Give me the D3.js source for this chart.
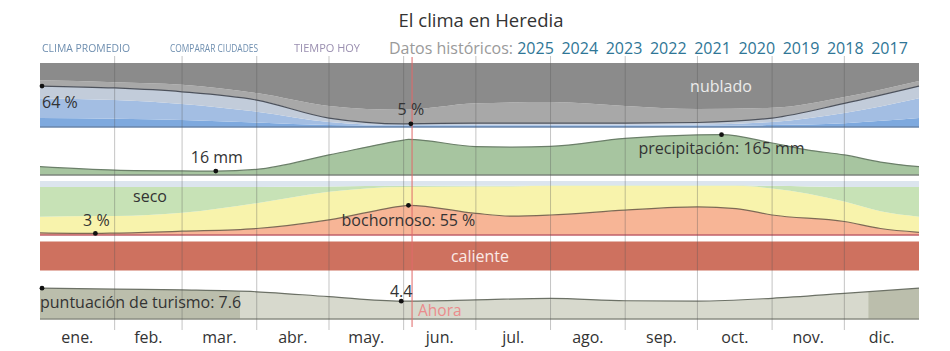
<!DOCTYPE html>
<html>
<head>
<meta charset="utf-8">
<script src="https://cdn.jsdelivr.net/npm/d3@7"></script>
<style>
  body { margin: 0; background: #fff; }
  svg { display: block; font-family: "Open Sans", "Noto Sans", sans-serif; }
</style>
</head>
<body>
<svg id="chart" width="950" height="351"></svg>
<script>
// ---------- data ----------
const monthLabels = ["ene.", "feb.", "mar.", "abr.", "may.", "jun.", "jul.", "ago.", "sep.", "oct.", "nov.", "dic."];
const monthStarts = [0, 31, 59, 90, 120, 151, 181, 212, 243, 273, 304, 334, 365];
const yearLinks = ["2025", "2024", "2023", "2022", "2021", "2020", "2019", "2018", "2017"];
const navLinks = ["CLIMA PROMEDIO", "COMPARAR CIUDADES", "TIEMPO HOY"];

// cloud cover, % of time in each category (day of year samples)
const cloudDays         = [0, 31, 59, 90, 120, 151, 181, 212, 243, 273, 304, 334, 365];
const cloudClear        = [14, 13, 11, 7, 3, 2, 2, 2, 2, 2, 3, 6, 14];
const cloudMostlyClear  = [31, 29, 25, 17, 5, 1, 1.5, 1.5, 1.5, 2, 5, 16, 31];
const cloudPartly       = [19, 19, 19, 18, 6, 2, 2.5, 2.5, 2.5, 3, 6, 15, 19];
const cloudMostlyCloudy = [9, 9, 11, 11, 19, 22, 31, 33, 27, 21, 16, 10, 8];
const cloudOvercast     = [27, 30, 34, 47, 67, 73, 63, 61, 67, 72, 70, 53, 28];

// 31-day rainfall, mm
const rainDays = [0, 31, 59, 73, 90, 120, 151, 153, 181, 196, 212, 243, 273, 283, 304, 319, 334, 349, 365];
const rainMm   = [34, 20, 16.5, 16, 23, 82, 143, 146, 116, 114, 117, 150, 164, 165, 131, 102, 82, 53, 34];

// humidity comfort, % of time in each level
const humDays        = [0, 23, 31, 59, 90, 120, 151, 153, 181, 196, 212, 243, 273, 289, 304, 334, 349, 365];
const humMuggy       = [4, 3, 3.5, 7, 12, 28, 54, 55, 40, 35, 37, 46, 52, 49, 37, 25, 12, 5];
const humHumid       = [30, 32, 31.5, 34, 47, 52, 35, 34, 50, 55, 54, 45, 39, 42, 49, 37, 32, 29];
const humComfortable = [55, 54, 54, 48, 30, 10, 2, 2, 1, 1, 1, 1, 1, 1, 5, 27, 45, 55];
const humDry         = [11, 11, 11, 11, 11, 10, 9, 9, 9, 9, 8, 8, 8, 8, 9, 11, 11, 11];

// temperature category spans
const tempSpans = [{ start: 0, end: 365, label: "caliente" }];

// tourism score
const tourDays  = [0, 31, 59, 90, 120, 150, 181, 212, 243, 273, 304, 334, 365];
const tourScore = [7.6, 7.35, 7.15, 6.7, 5.5, 4.4, 4.7, 5.1, 4.5, 4.4, 5.1, 6.3, 7.6];
const tourBest  = [[0, 83], [344, 365]];

// annotated values
const todayDay = 154.5;
const cloudNote = { day: 0, value: 64 };
const cloudNow  = { day: 154, value: 5 };
const rainMin   = { day: 73, value: 16 };
const rainMax   = { day: 283, value: 165 };
const humMin    = { day: 23, value: 3 };
const humMax    = { day: 153, value: 55 };
const tourNote  = { day: 0, value: 7.6 };
const tourNow   = { day: 150, value: 4.4 };

// ---------- drawing ----------
const svg = d3.select("#chart");
const x = d3.scaleLinear().domain([0, 365]).range([40, 919]);
const curve = d3.curveMonotoneX;
const ink = "#333";

// title
svg.append("text").attr("x", 481).attr("y", 27).attr("text-anchor", "middle")
  .attr("font-size", 18.5).attr("fill", ink).text("El clima en Heredia");

// navigation row
const defs = svg.append("defs");
defs.append("filter").attr("id", "soft").append("feGaussianBlur").attr("stdDeviation", 0.5);
const navX = [42, 170, 294], navW = [88, 88, 66];
svg.append("g").attr("filter", "url(#soft)").selectAll("text").data(navLinks).join("text")
  .attr("x", (d, i) => navX[i]).attr("y", 52)
  .attr("textLength", (d, i) => navW[i]).attr("lengthAdjust", "spacingAndGlyphs")
  .attr("font-size", 11.5).attr("fill", (d, i) => i === 2 ? "#9a8fb0" : "#6f8fb0")
  .text(d => d);

svg.append("text").attr("x", 513).attr("y", 54).attr("text-anchor", "end")
  .attr("font-size", 16).attr("fill", "#9a9a9a").text("Datos históricos:");
svg.append("g").selectAll("text").data(yearLinks).join("text")
  .attr("x", (d, i) => 535.5 + i * 44.25).attr("y", 54).attr("text-anchor", "middle")
  .attr("font-size", 16).attr("fill", "#2f7696").text(d => d);

// --- cloud cover band ---
const yCloud = d3.scaleLinear().domain([0, 100]).range([127, 63]);
const cloudKeys = ["clear", "mostlyClear", "partly", "mostlyCloudy", "overcast"];
const cloudColors = ["#7ea9de", "#a3bee3", "#c2ccda", "#a8a8a8", "#8b8b8b"];
const cloudRows = cloudDays.map((d, i) => ({
  day: d, clear: cloudClear[i], mostlyClear: cloudMostlyClear[i], partly: cloudPartly[i],
  mostlyCloudy: cloudMostlyCloudy[i], overcast: cloudOvercast[i]
}));
const cloudStack = d3.stack().keys(cloudKeys)(cloudRows);
svg.append("g").selectAll("path").data(cloudStack).join("path")
  .attr("fill", (d, i) => cloudColors[i])
  .attr("d", d3.area().x(d => x(d.data.day)).y0(d => yCloud(d[0])).y1(d => yCloud(Math.min(100, d[1]))).curve(curve));
svg.append("path").attr("fill", "none").attr("stroke", "#4d525c").attr("stroke-width", 1.2)
  .attr("d", d3.line().x(d => x(d.data.day)).y(d => yCloud(d[1])).curve(curve)(cloudStack[2]));
svg.append("line").attr("x1", x(0)).attr("x2", x(365)).attr("y1", yCloud(0)).attr("y2", yCloud(0))
  .attr("stroke", "#6a86aa").attr("stroke-width", 1.5);

// --- precipitation band ---
const yRain = d3.scaleLinear().domain([0, 180]).range([175, 131]);
const rainRows = rainDays.map((d, i) => ({ day: d, v: rainMm[i] }));
svg.append("path").attr("fill", "#a7c5a0")
  .attr("d", d3.area().x(d => x(d.day)).y0(yRain(0)).y1(d => yRain(d.v)).curve(curve)(rainRows));
svg.append("path").attr("fill", "none").attr("stroke", "#6b7f69").attr("stroke-width", 1.2)
  .attr("d", d3.line().x(d => x(d.day)).y(d => yRain(d.v)).curve(curve)(rainRows));
svg.append("line").attr("x1", x(0)).attr("x2", x(365)).attr("y1", yRain(0)).attr("y2", yRain(0))
  .attr("stroke", "#7d857c").attr("stroke-width", 1.5);

// --- humidity band ---
const yHum = d3.scaleLinear().domain([0, 100]).range([235, 181]);
const humKeys = ["muggy", "humid", "comfortable", "dry"];
const humColors = ["#f7b596", "#f8f3ac", "#c7e2b6", "#dce5ee"];
const humRows = humDays.map((d, i) => ({
  day: d, muggy: humMuggy[i], humid: humHumid[i], comfortable: humComfortable[i], dry: humDry[i]
}));
const humStack = d3.stack().keys(humKeys)(humRows);
svg.append("g").selectAll("path").data(humStack).join("path")
  .attr("fill", (d, i) => humColors[i])
  .attr("d", d3.area().x(d => x(d.data.day)).y0(d => yHum(d[0])).y1(d => yHum(Math.min(100, d[1]))).curve(curve));
svg.append("path").attr("fill", "none").attr("stroke", "#7e6a55").attr("stroke-width", 1.2)
  .attr("d", d3.line().x(d => x(d.data.day)).y(d => yHum(d[1])).curve(curve)(humStack[0]));
svg.append("line").attr("x1", x(0)).attr("x2", x(365)).attr("y1", yHum(0)).attr("y2", yHum(0))
  .attr("stroke", "#c0606a").attr("stroke-width", 1.5);

// --- temperature band ---
svg.append("g").selectAll("rect").data(tempSpans).join("rect")
  .attr("x", d => x(d.start)).attr("width", d => x(d.end) - x(d.start))
  .attr("y", 241.5).attr("height", 29).attr("fill", "#ce715f");

// --- tourism band ---
const yTour = d3.scaleLinear().domain([0, 10]).range([319, 278.4]);
const tourRows = tourDays.map((d, i) => ({ day: d, v: tourScore[i] }));
const tourArea = d3.area().x(d => x(d.day)).y0(yTour(0)).y1(d => yTour(d.v)).curve(curve);
svg.append("path").attr("fill", "#d7d9cd").attr("d", tourArea(tourRows));
const clip = defs.selectAll("clipPath").data(tourBest).join("clipPath")
  .attr("id", (d, i) => "best" + i);
clip.append("rect").attr("x", d => x(d[0])).attr("width", d => x(d[1]) - x(d[0]))
  .attr("y", 270).attr("height", 60);
svg.append("g").selectAll("path").data(tourBest).join("path")
  .attr("clip-path", (d, i) => `url(#best${i})`)
  .attr("fill", "#bbbeac").attr("d", tourArea(tourRows));
svg.append("path").attr("fill", "none").attr("stroke", "#6c7166").attr("stroke-width", 1.2)
  .attr("d", d3.line().x(d => x(d.day)).y(d => yTour(d.v)).curve(curve)(tourRows));
svg.append("line").attr("x1", x(0)).attr("x2", x(365)).attr("y1", yTour(0)).attr("y2", yTour(0))
  .attr("stroke", "#8b8e83").attr("stroke-width", 1.5);

// --- month grid ---
svg.append("g").selectAll("line").data(monthStarts.slice(1, 12)).join("line")
  .attr("x1", d => x(d)).attr("x2", d => x(d)).attr("y1", 56).attr("y2", 330)
  .attr("stroke", "#555").attr("stroke-opacity", 0.35).attr("stroke-width", 1);

// month labels centred in each month
svg.append("g").selectAll("text").data(monthLabels).join("text")
  .attr("x", (d, i) => x((monthStarts[i] + monthStarts[i + 1]) / 2)).attr("y", 343)
  .attr("text-anchor", "middle").attr("font-size", 16).attr("fill", ink).text(d => d);

// --- today marker ---
svg.append("line").attr("x1", x(todayDay)).attr("x2", x(todayDay)).attr("y1", 57).attr("y2", 327)
  .attr("stroke", "#e06a6a").attr("stroke-width", 1.2).attr("stroke-opacity", 0.85);
svg.append("text").attr("x", x(todayDay) + 6).attr("y", 316).attr("font-size", 15.5)
  .attr("fill", "#ea8c8c").text("Ahora");

// --- labels and dots ---
const dots = [
  { day: cloudNote.day, y: yCloud(cloudNote.value) },
  { day: cloudNow.day, y: yCloud(cloudNow.value) },
  { day: rainMin.day, y: yRain(rainMin.value) },
  { day: rainMax.day, y: yRain(rainMax.value) },
  { day: humMin.day, y: yHum(humMin.value) },
  { day: humMax.day, y: yHum(humMax.value) },
  { day: tourNote.day, y: yTour(tourNote.value) },
  { day: tourNow.day, y: yTour(tourNow.value) }
];
svg.append("g").selectAll("circle").data(dots).join("circle")
  .attr("cx", d => x(d.day) + (d.day === 0 ? 2 : 0)).attr("cy", d => d.y).attr("r", 2.4).attr("fill", "#111");

function label(tx, ty, str, opts = {}) {
  svg.append("text").attr("x", tx).attr("y", ty)
    .attr("text-anchor", opts.anchor || "start")
    .attr("font-size", opts.size || 16)
    .attr("fill", opts.fill || ink)
    .text(str);
}
label(x(0) + 2, 108, `${cloudNote.value} %`);
label(x(cloudNow.day), 115, `${cloudNow.value} %`, { anchor: "middle" });
label(721, 92, "nublado", { fill: "#ececec", anchor: "middle" });
label(x(rainMin.day) + 1, 163, `${rainMin.value} mm`, { anchor: "middle" });
label(x(rainMax.day), 154, `precipitación: ${rainMax.value} mm`, { anchor: "middle" });
label(150, 202, "seco", { anchor: "middle" });
label(x(humMin.day) + 1, 226, `${humMin.value} %`, { anchor: "middle" });
label(x(humMax.day), 226, `bochornoso: ${humMax.value} %`, { anchor: "middle" });
label(480, 262, tempSpans[0].label, { fill: "#fbeae6", anchor: "middle" });
label(x(0), 308, `puntuación de turismo: ${tourNote.value}`);
label(x(tourNow.day), 297, `${tourNow.value}`, { anchor: "middle" });
</script>
</body>
</html>
